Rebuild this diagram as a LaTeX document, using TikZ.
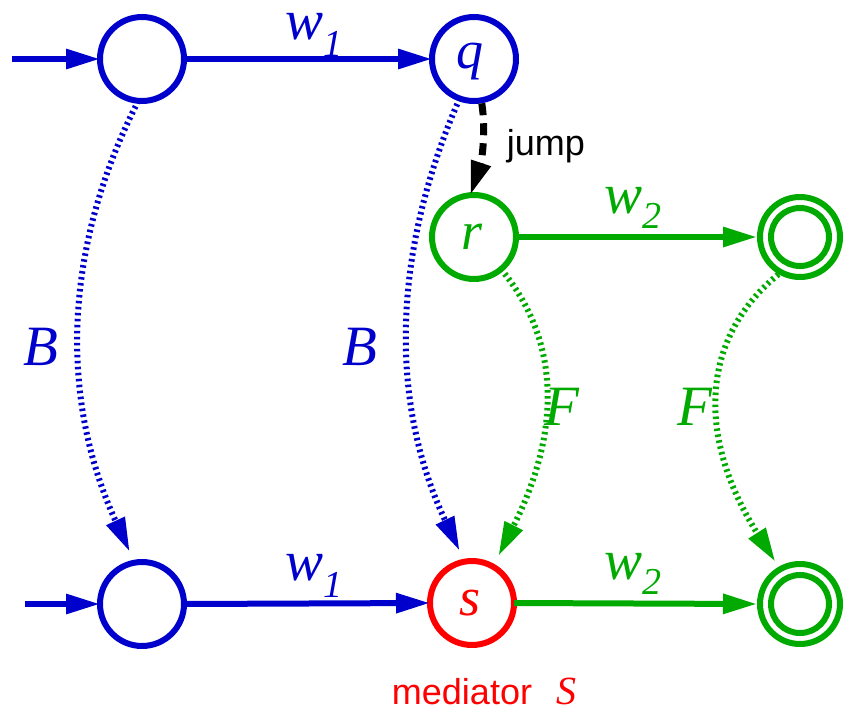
\documentclass[tikz,border=0pt]{standalone}
\usepackage{fontspec}
\setmainfont{Liberation Serif}
\setsansfont{Liberation Sans}
\newfontfamily\lserif{Liberation Serif}
\newfontfamily\lsans{Liberation Sans}
\usetikzlibrary{arrows.meta}
\definecolor{cblue}{RGB}{0,0,204}
\definecolor{cgreen}{RGB}{0,170,0}
\definecolor{cred}{RGB}{255,0,0}
\newcommand{\bigit}{\lserif\fontsize{57}{60}\selectfont\itshape}
\newcommand{\subl}[2]{\raisebox{-#1pt}{\lserif\fontsize{38}{40}\selectfont\itshape #2}}
\newcommand{\stlab}{\lserif\fontsize{54}{56}\selectfont\itshape}
\tikzset{
  state/.style={circle, draw, line width=6pt, minimum size=84pt, inner sep=0pt, outer sep=0pt},
  tip/.style={-{Triangle[length=34pt,width=19pt]}},
  trans/.style={tip, line width=6pt},
  dotline/.style={tip, line width=6pt, dash pattern=on 2.5pt off 3.5pt},
  lab/.style={inner sep=0pt, anchor=base},
  ring/.style={circle, draw=cgreen, line width=6pt, inner sep=0pt},
}
\begin{document}
\begin{tikzpicture}[x=1pt,y=-1pt]
\useasboundingbox (0,0) rectangle (846,712);
% states
\node[state, draw=cblue] (A) at (142,59) {};
\node[state, draw=cblue] (q) at (474,59) {};
\node[state, draw=cgreen] (r) at (474,237) {};
\node[state, draw=cblue] (BL) at (142,604) {};
\node[state, draw=cred] (s) at (472,603) {};
\node[lab, text=cblue] (lq) at (470,68) {\stlab q};
\node[lab, text=cgreen] (lr) at (472,249) {\stlab r};
\node[lab, text=cred] (ls) at (470,615) {\stlab s};
\node[ring, minimum size=80pt] (F1) at (800,237) {};
\node[ring, minimum size=58pt] (F1i) at (800,237) {};
\node[ring, minimum size=80pt] (F2) at (800,604) {};
\node[ring, minimum size=58pt] (F2i) at (800,604) {};
% initial
\coordinate (i1) at (12,59);
\coordinate (i2) at (25,604);
\draw[trans, cblue] (i1) -- (A.west);
\draw[trans, cblue] (i2) -- (BL.west);
% transitions
\draw[trans, cblue] (A.east) -- (q.west);
\draw[trans, cblue] (BL.east) -- (s.west);
\draw[trans, cgreen] (r.east) -- (F1.west);
\draw[trans, cgreen] (s.east) -- (F2.west);
% labels
\node[lab, text=cblue] (lw1a) at (314,39) {\bigit w\subl{17}{1}};
\node[lab, text=cblue] (lw1b) at (314,580) {\bigit w\subl{17}{1}};
\node[lab, text=cgreen] (lw2a) at (633,213) {\bigit w\subl{15}{2}};
\node[lab, text=cgreen] (lw2b) at (633,579) {\bigit w\subl{15}{2}};
% B and F
\draw[dotline, cblue, shorten >=12pt] (A.-95) .. controls (62,250) and (60,400) .. (BL.100);
\draw[dotline, cblue, shorten >=12pt] (q.-110) .. controls (393,250) and (388,400) .. (s.100);
\draw[dotline, cgreen, shorten >=12pt] (r.-50) .. controls (560,340) and (562,430) .. (s.60);
\draw[dotline, cgreen, shorten >=6pt] (F1.-120) .. controls (698,340) and (698,440) .. (F2.120);
\node[lab, text=cblue] (lB1) at (41,365) {\bigit B};
\node[lab, text=cblue] (lB2) at (360,365) {\bigit B};
\node[lab, text=cgreen] (lF1) at (562,425) {\bigit F};
\node[lab, text=cgreen] (lF2) at (695,425) {\bigit F};
% jump
\draw[tip, line width=7pt, dash pattern=on 12pt off 8pt, black, shorten <=3pt] (q.-80) .. controls (486,130) and (482,160) .. (r.95);
\node[lab] (ljump) at (546,155) {\lsans\fontsize{36}{38}\selectfont jump};
% mediator
\node[lab, text=cred] (lmed) at (462,704) {\lsans\fontsize{36}{38}\selectfont mediator};
\node[lab, text=cred] (lS) at (566,704) {\lserif\fontsize{40}{44}\selectfont\itshape S};
\end{tikzpicture}
\end{document}
